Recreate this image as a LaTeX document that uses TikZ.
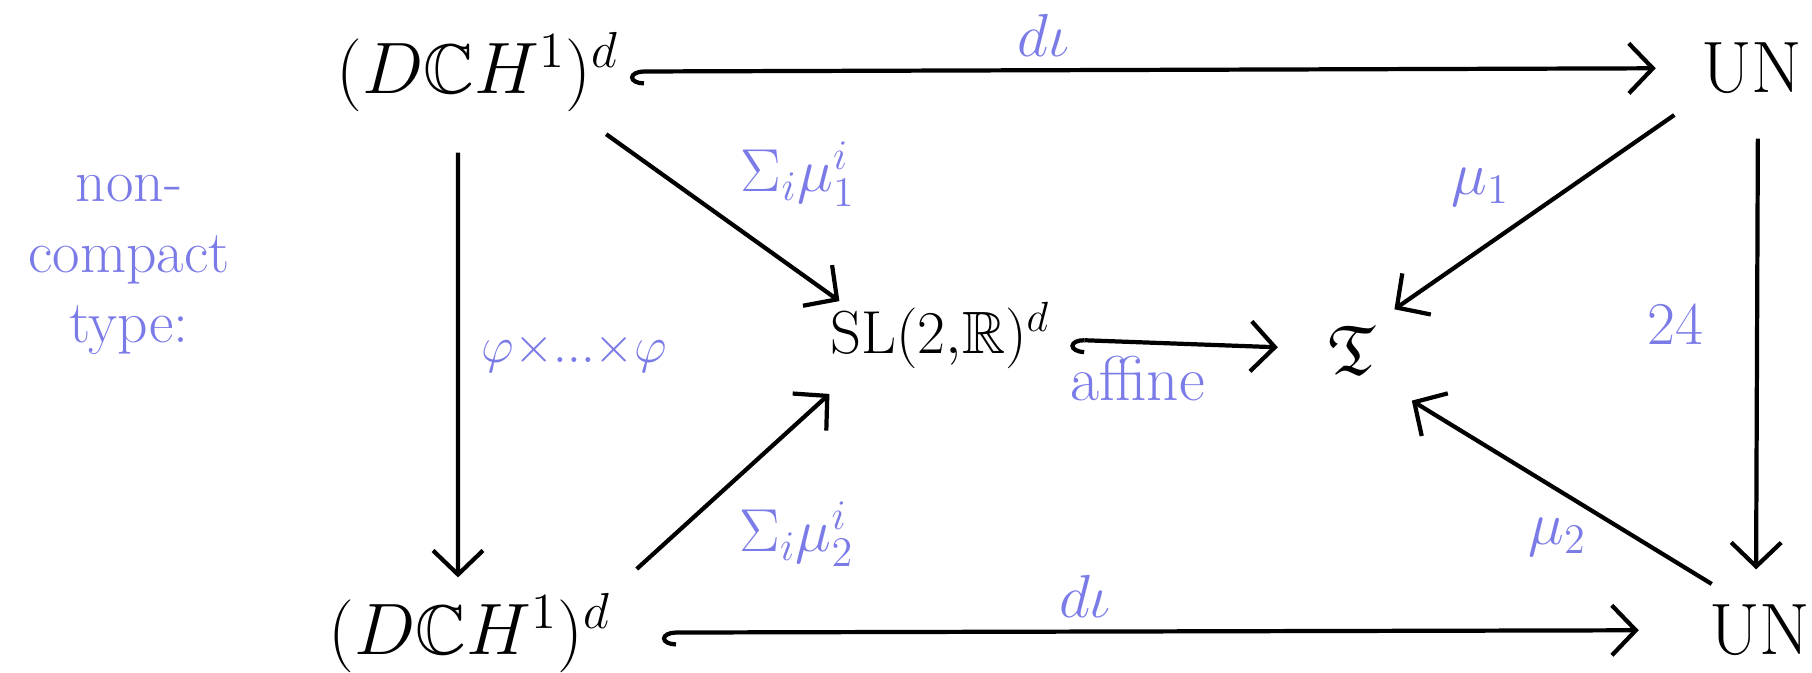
\documentclass[tikz,border=0pt]{standalone}
\usepackage{amssymb}
\usepackage{tikz}
\usetikzlibrary{arrows.meta, positioning}
\definecolor{lavande}{HTML}{7B7BE8}
\tikzset{
  objet/.style={font=\fontsize{20}{24}\selectfont, inner sep=1mm},
  fleche/.style={-{Straight Barb[length=2.4mm, width=5mm]}, line width=1.2pt, color=black},
  inclusion/.style={fleche, {Hooks[left, length=1.4mm, width=2.8mm]}-{Straight Barb[length=2.4mm, width=5mm]}},
  etiquette/.style={font=\fontsize{18}{22}\selectfont, text=lavande},
  remarque/.style={font=\fontsize{17}{20}\selectfont, text=lavande, align=center}
}

\begin{document}
\begin{tikzpicture}
    \useasboundingbox (0,0) rectangle (18.12,6.72);
    \node[objet] (hautg) at (4.78,6.0) {$(D\mathbb{C}H^1)^d$};
    \node[objet] (hautd) at (17.52,6.04) {$\mathrm{UN}$};
    \node[objet] (basg) at (4.70,0.39) {$(D\mathbb{C}H^1)^d$};
    \node[objet] (basd) at (17.6,0.42) {$\mathrm{UN}$};
    \node[objet, font=\fontsize{17}{20}\selectfont] (sl) at (9.40,3.37) {$\mathrm{SL}(2{,}\mathbb{R})^d$};
    \node[objet] (frakt) at (13.52,3.22) {$\mathfrak{T}$};
    \node[remarque] (type) at (1.29,4.07) {non-\\compact\\type:};

    \draw[inclusion, shorten <=0mm, shorten >=3.5mm] (hautg) -- node[etiquette, above, pos=0.39]{$d\iota$} (hautd);
    \draw[inclusion, shorten <=4mm, shorten >=6mm] (basg) -- node[etiquette, above, pos=0.43]{$d\iota$} (basd);
    \draw[fleche, shorten <=3mm, shorten >=0.5mm] ([xshift=-2mm]hautg.south) -- node[etiquette, right=1mm, pos=0.5, font=\fontsize{15}{18}\selectfont]{$\varphi{\times}...{\times}\varphi$} ([xshift=-1.2mm]basg.north);
    \draw[fleche, shorten <=3.5mm, shorten >=2.5mm] ([xshift=0.6mm]hautd.south) -- node[etiquette, left=4mm, pos=0.45]{$24$} ([xshift=-0.4mm]basd.north);
    \draw[fleche, shorten <=2mm] ([xshift=-4mm]hautg.south east) -- node[etiquette, above right, pos=0.55]{$\Sigma_i\mu_1^i$} ([shift={(2mm,-1mm)}]sl.north west);
    \draw[fleche, shorten <=2mm] (basg.north east) -- node[etiquette, below right, pos=0.5]{$\Sigma_i\mu_2^i$} ([shift={(1mm,-1.5mm)}]sl.south west);
    \draw[inclusion, shorten <=1mm, shorten >=4mm] (sl) -- node[etiquette, below, pos=0.3]{affine} (frakt);
    \draw[fleche, shorten <=2mm, shorten >=1mm] (hautd.south west) -- node[etiquette, above left, pos=0.55]{$\mu_1$} (frakt.north east);
    \draw[fleche, shorten <=2mm, shorten >=3mm] ([xshift=3mm]basd.north west) -- node[etiquette, below=1.5mm, pos=0.5]{$\mu_2$} (frakt.south east);
\end{tikzpicture}
\end{document}
